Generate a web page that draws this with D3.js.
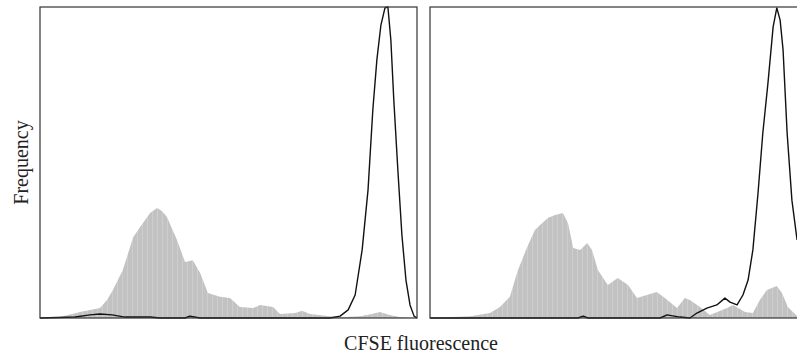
<!DOCTYPE html>
<html>
<head>
<meta charset="utf-8">
<script src="https://cdn.jsdelivr.net/npm/d3@7"></script>
<style>
	body{margin:0;background:#fff;}
	.box{fill:none;stroke:#333;stroke-width:1.2px;}
	.area{stroke:none;}
	.line{fill:none;stroke:#111;stroke-width:1.4px;stroke-linejoin:round;}
	.label{font-family:'Liberation Serif','DejaVu Serif',serif;font-size:20px;fill:#222;}
</style>
</head>
<body>
<div id="plot"></div>
<script>
//CFSE histograms, two panels: gray = stimulated, black line = control

//Left panel, gray filled histogram
var leftFillX = [0,54,109,136,163,182,198,225,253,272,299,318,331,345,372,394,415,435,456,489,516,543,579,598,633,652,693,712,733,788,828,869,901,923,950,977,1024],
	leftFillY = [0,0.3,1.9,2.6,3.2,5.8,9.0,15.4,26.0,29.3,33.8,35.4,34.4,32.5,25.1,18.0,18.6,14.5,8.0,6.8,6.4,3.5,3.2,4.2,3.5,1.3,1.6,2.3,1.3,0.6,0.3,0.6,1.3,1.9,1.0,0.3,0];
//Left panel, black outline histogram
var leftLineX = [0,95,136,163,196,231,299,326,394,407,435,788,815,837,856,875,891,904,915,926,937,945,953,961,972,983,994,1005,1016,1024],
	leftLineY = [0,0.3,1.0,1.3,1.0,0.3,0.3,0,0,0.6,0,0,0.6,2.6,7.4,21.9,41.2,66.9,83.0,94.2,99.7,100,89.4,70.1,47.6,26.7,12.2,4.2,0.6,0];
//Right panel, gray filled histogram
var rightFillX = [0,62,109,163,190,217,239,264,285,299,321,340,361,375,389,408,427,440,456,483,510,538,562,589,616,638,671,692,706,733,760,807,823,856,877,896,915,942,956,972,997],
	rightFillY = [0,0.3,0.6,1.6,3.5,6.8,15.4,22.8,28.3,29.9,32.2,33.1,33.8,30.5,22.5,21.9,24.1,21.9,15.4,10.6,12.9,10.6,6.4,7.4,8.4,6.4,3.2,6.4,5.8,3.5,1.0,3.2,4.2,1.9,1.6,5.8,9.0,10.3,8.0,3.5,0.6];
//Right panel, black outline histogram
var rightLineX = [0,402,416,429,625,644,679,706,725,752,779,801,815,834,850,864,877,891,904,918,932,942,951,959,970,983,997],
	rightLineY = [0,0,0.6,0,0,1.0,0.3,0,1.6,3.2,4.2,6.4,5.1,4.2,7.4,12.2,21.9,40.2,59.5,75.6,93.6,99.7,95.8,86.2,59.5,37.9,25.1];

var X_LABEL = 'CFSE fluorescence',
	Y_LABEL = 'Frequency';

var W = 797, H = 362;
var m = {t:7,b:44,l:40},
	panelW = 377, gap = 13,
	h = H - m.t - m.b;

var svg = d3.select('#plot')
	.append('svg')
	.attr('width',W)
	.attr('height',H);

//striped gray fill, mimics the thin bars of the flow cytometry plot
var pattern = svg.append('defs').append('pattern')
	.attr('id','stripes')
	.attr('patternUnits','userSpaceOnUse')
	.attr('width',5).attr('height',10);
pattern.append('rect').attr('width',5).attr('height',10).attr('fill','#c2c2c2');
pattern.append('rect').attr('x',2).attr('width',0.8).attr('height',10).attr('fill','#d2d2d2');

var scaleX = d3.scaleLinear().domain([0,1024]).range([0,panelW]),
	scaleY = d3.scaleLinear().domain([0,100]).range([h,0]);

var area = d3.area()
	.x(function(d){return scaleX(d[0])})
	.y0(h)
	.y1(function(d){return scaleY(d[1])});
var line = d3.line()
	.x(function(d){return scaleX(d[0])})
	.y(function(d){return scaleY(d[1])});

var panels = [
	{fill:d3.zip(leftFillX,leftFillY), line:d3.zip(leftLineX,leftLineY)},
	{fill:d3.zip(rightFillX,rightFillY), line:d3.zip(rightLineX,rightLineY)}
];

panels.forEach(function(p,i){
	var g = svg.append('g')
		.attr('class','panel')
		.attr('transform','translate('+(m.l + i*(panelW+gap))+','+m.t+')');
	g.append('path').attr('class','area')
		.datum(p.fill)
		.attr('fill','url(#stripes)')
		.attr('d',area);
	g.append('path').attr('class','line')
		.datum(p.line)
		.attr('d',line);
	g.append('rect').attr('class','box')
		.attr('width',panelW)
		.attr('height',h);
});

//axis titles
svg.append('text').attr('class','label')
	.attr('text-anchor','middle')
	.attr('x',421)
	.attr('y',H-12)
	.text(X_LABEL);
svg.append('text').attr('class','label')
	.attr('text-anchor','middle')
	.attr('transform','translate(28,'+(m.t+h/2)+') rotate(-90)')
	.text(Y_LABEL);
</script>
</body>
</html>
